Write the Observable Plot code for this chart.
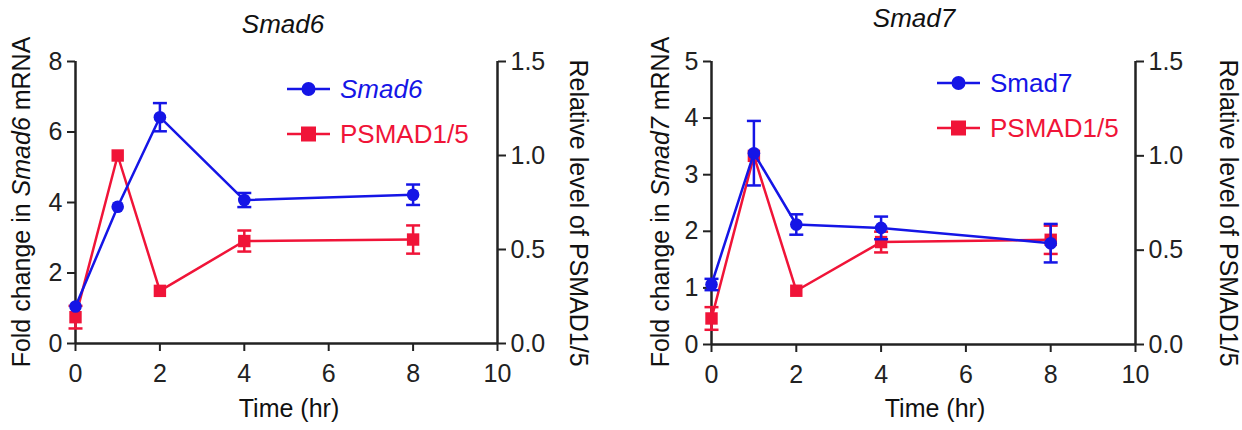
<!DOCTYPE html>
<html><head><meta charset="utf-8">
<script src="https://cdn.jsdelivr.net/npm/d3@7"></script>
<script src="https://cdn.jsdelivr.net/npm/@observablehq/plot@0.6"></script>
<style>
body{margin:0;background:#fff;font-family:"Liberation Sans",Arial,sans-serif;}
#row{display:flex;width:1242px;height:430px;}
</style></head><body><div id="row"></div>
<script>
// ---- data ----
const times = [0, 1, 2, 4, 8];
const smad6Mean = [1.05, 3.88, 6.42, 4.07, 4.22];
const smad6Err  = [0, 0, 0.40, 0.20, 0.29];
const psmadA_Mean = [0.14, 1.00, 0.28, 0.545, 0.553];
const psmadA_Err  = [0.06, 0, 0, 0.056, 0.075];
const smad7Mean = [1.06, 3.38, 2.12, 2.06, 1.79];
const smad7Err  = [0.10, 0.57, 0.18, 0.20, 0.34];
const psmadB_Mean = [0.138, 1.00, 0.285, 0.543, 0.555];
const psmadB_Err  = [0.06, 0, 0, 0.055, 0.075];
const xTicks = [0, 2, 4, 6, 8, 10];
const leftTicks6 = [0, 2, 4, 6, 8];
const leftTicks7 = [0, 1, 2, 3, 4, 5];
const rightTicks = [0, 0.5, 1.0, 1.5];

const BLUE = "#1515e6", RED = "#f01438", INK = "#222";
const FONT = '"Liberation Sans", Arial, sans-serif';
const FS = 25;
const capSymbol = {draw(ctx, size){ const w = Math.sqrt(size/Math.PI); ctx.moveTo(-w,0); ctx.lineTo(w,0); }};

function panel(o) {
  const k = o.yMax / 1.5;
  const blue = times.map((t,i)=>({t, v:o.blueMean[i], e:o.blueErr[i]}));
  const red = times.map((t,i)=>({t, v:o.redMean[i]*k, e:o.redErr[i]*k}));
  const errMarks = (data, color) => {
    const d = data.filter(p=>p.e>0);
    return [
      Plot.ruleX(d, {x:"t", y1:p=>p.v-p.e, y2:p=>p.v+p.e, stroke:color, strokeWidth:2.5}),
      Plot.dot(d, {x:"t", y:p=>p.v+p.e, symbol:capSymbol, r:7, stroke:color, fill:"none", strokeWidth:2.5}),
      Plot.dot(d, {x:"t", y:p=>p.v-p.e, symbol:capSymbol, r:7, stroke:color, fill:"none", strokeWidth:2.5})
    ];
  };
  const svg = Plot.plot({
    width:o.width, height:430,
    marginLeft:o.ml, marginRight:o.mr, marginTop:61, marginBottom:o.mb,
    x:{domain:[0,10]}, y:{domain:[0,o.yMax]},
    style:{fontFamily:FONT, fontSize:FS+"px", color:INK, background:"#fff", overflow:"visible"},
    marks:[
      Plot.axisX({ticks:xTicks, tickSize:8, tickPadding:13, tickFormat:d=>String(d), label:null, strokeWidth:2}),
      Plot.axisY({ticks:o.leftTicks, tickSize:8, tickPadding:5, tickFormat:d=>String(d), label:null, strokeWidth:2}),
      Plot.axisY({anchor:"right", ticks:rightTicks.map(v=>v*k), tickFormat:d=>(d/k).toFixed(1), tickSize:8, tickPadding:5, label:null, strokeWidth:2}),
      Plot.ruleX([0,10], {stroke:INK, strokeWidth:2.5}),
      Plot.ruleY([0], {stroke:INK, strokeWidth:2.5}),
      ...errMarks(red, RED),
      Plot.line(red, {x:"t", y:"v", stroke:RED, strokeWidth:2.5}),
      Plot.dot(red, {x:"t", y:"v", symbol:"square", r:7, fill:RED}),
      ...errMarks(blue, BLUE),
      Plot.line(blue, {x:"t", y:"v", stroke:BLUE, strokeWidth:2.5}),
      Plot.dot(blue, {x:"t", y:"v", symbol:"circle", r:6.3, fill:BLUE})
    ]
  });
  const s = d3.select(svg);
  const g = s.append("g").attr("font-family", FONT).attr("font-size", FS).attr("fill", "#111");
  // title
  g.append("text").attr("x", o.titleX).attr("y", o.titleY).attr("text-anchor","middle")
    .attr("font-size", 26).attr("font-style","italic").text(o.gene);
  // left label
  const ll = g.append("text").attr("transform",`translate(${o.leftLabelX},${o.labelY}) rotate(-90)`)
    .attr("text-anchor","middle").attr("dy","0.35em");
  ll.append("tspan").text("Fold change in ");
  ll.append("tspan").attr("font-style","italic").text(o.gene);
  ll.append("tspan").text(" mRNA");
  // right label
  g.append("text").attr("transform",`translate(${o.rightLabelX},${o.labelY + 11}) rotate(90)`)
    .attr("text-anchor","middle").attr("dy","0.35em").text("Relative level of PSMAD1/5");
  // x label
  g.append("text").attr("x", o.xLabelX).attr("y", 417).attr("text-anchor","middle").text("Time (hr)");
  // legend
  const items = [
    {label:o.gene, color:BLUE, italic:o.legendItalic, shape:"circle", y:o.legY},
    {label:"PSMAD1/5", color:RED, italic:false, shape:"square", y:o.legY+45}
  ];
  for (const it of items) {
    const lg = s.append("g");
    lg.append("line").attr("x1", o.legX).attr("x2", o.legX+43).attr("y1", it.y).attr("y2", it.y)
      .attr("stroke", it.color).attr("stroke-width", 2.5);
    if (it.shape === "circle") lg.append("circle").attr("cx", o.legX+21.5).attr("cy", it.y).attr("r", 7).attr("fill", it.color);
    else lg.append("rect").attr("x", o.legX+21.5-7.5).attr("y", it.y-7.5).attr("width", 15).attr("height", 15).attr("fill", it.color);
    lg.append("text").attr("x", o.legX+53).attr("y", it.y).attr("dy","0.36em").attr("text-anchor","start")
      .attr("font-family", FONT).attr("font-size", 26).attr("fill", it.color)
      .attr("font-style", it.italic ? "italic" : "normal").text(it.label);
  }
  return svg;
}

const row = document.getElementById("row");
row.append(panel({
  width:620, ml:75, mr:123, mb:87, yMax:8, leftTicks:leftTicks6,
  blueMean:smad6Mean, blueErr:smad6Err, redMean:psmadA_Mean, redErr:psmadA_Err,
  gene:"Smad6", legendItalic:true, titleX:283, titleY:33,
  leftLabelX:21, rightLabelX:579, labelY:202, xLabelX:289, legX:287, legY:89
}));
row.append(panel({
  width:622, ml:91, mr:107, mb:86, yMax:5, leftTicks:leftTicks7,
  blueMean:smad7Mean, blueErr:smad7Err, redMean:psmadB_Mean, redErr:psmadB_Err,
  gene:"Smad7", legendItalic:false, titleX:294, titleY:27,
  leftLabelX:40, rightLabelX:609, labelY:202, xLabelX:315, legX:317, legY:83
}));
</script></body></html>
